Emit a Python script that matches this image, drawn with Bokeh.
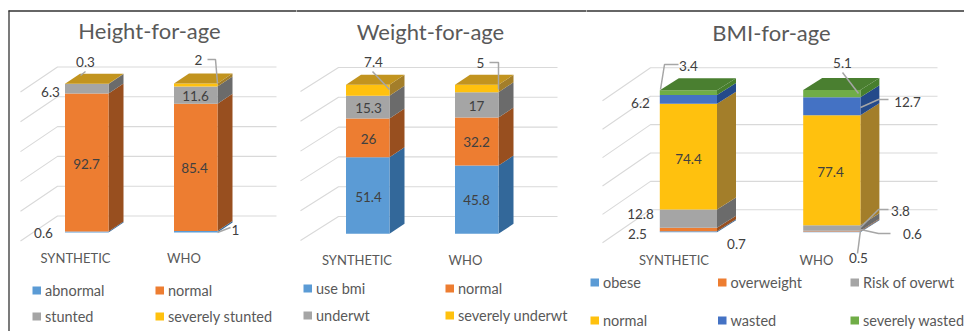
from bokeh.embed import file_html
from bokeh.layouts import row
from bokeh.models import Range1d
from bokeh.plotting import figure
from bokeh.resources import INLINE
from bokeh.core.properties import value

# Series values, bottom of the stack first
categories = ["SYNTHETIC", "WHO"]

height_series = ["abnormal", "normal", "stunted", "severely stunted"]
height_synthetic = [0.6, 92.7, 6.3, 0.3]
height_who = [1, 85.4, 11.6, 2]

weight_series = ["use bmi", "normal", "underwt", "severely underwt"]
weight_synthetic = [51.4, 26, 15.3, 7.4]
weight_who = [45.8, 32.2, 17, 5]

bmi_series = ["obese", "overweight", "Risk of overwt", "normal", "wasted", "severely wasted"]
bmi_synthetic = [0.7, 2.5, 12.8, 74.4, 6.2, 3.4]
bmi_who = [0.5, 0.6, 3.8, 77.4, 12.7, 5.1]

BLUE, ORANGE, GRAY, YELLOW, NAVY, GREEN = "#5B9BD5", "#ED7D31", "#A5A5A5", "#FFC10E", "#4472C4", "#70AD47"
SIDES = {BLUE: "#33689A", ORANGE: "#984F1F", GRAY: "#6B6B6B", YELLOW: "#A37E2A", NAVY: "#244A8A", GREEN: "#477F2D"}
TOPS = {YELLOW: "#C2941F", GREEN: "#4A7F30"}
FONT = "Lato"
INK = "#595959"
LABEL = "#404040"
HEIGHT = 331


def panel(cfg):
    x0, x1 = cfg["span"]
    base, scale = cfg["base"], cfg["scale"]
    to_value = lambda py: (base - py) / scale

    p = figure(width=x1 - x0, height=HEIGHT, output_backend="svg", toolbar_location=None,
               x_range=Range1d(x0, x1), y_range=Range1d(to_value(HEIGHT), to_value(0)),
               min_border=0, background_fill_color="white", border_fill_color="white")
    p.axis.visible = False
    p.grid.visible = False
    p.outline_line_color = None

    def label(px, py, text, size=13.5, color=LABEL, align="center"):
        p.text([px], [to_value(py)], text=[text], text_font=value(FONT), text_font_size=f"{size}px",
               text_color=color, text_align=align, text_baseline="middle")

    # Frame along the top (and the left edge on the first panel)
    p.line([8 if x0 == 0 else x0 - 3, x1 + 3], [to_value(10.5)] * 2, line_color="#333333", line_width=1.3)
    if x0 == 0:
        p.line([8.5, 8.5], [to_value(10), to_value(HEIGHT)], line_color="#333333", line_width=1.3)

    # Back wall gridlines with their receding side-wall strokes
    gx0, gx1, dx_wall = cfg["grid"]
    for tick in [0, 20, 40, 60, 80, 100]:
        gy = to_value(cfg["wall_base"]) + tick
        p.line([gx0 - dx_wall, gx0, gx1], [gy - cfg["wall_dy"] / scale, gy, gy], line_color="#D9D9D9", line_width=1.1)

    # Stacked 3-D columns
    dx, dy = cfg["depth"]
    dv = dy / scale
    for left, vals in zip(cfg["lefts"], cfg["stacks"]):
        right = left + cfg["width"]
        bottom = 0
        for val, color in zip(vals, cfg["colors"]):
            top = bottom + val
            p.patch([right, right + dx, right + dx, right], [bottom, bottom + dv, top + dv, top],
                    fill_color=SIDES[color], line_color=None)
            p.quad(left=[left], right=[right], bottom=[bottom], top=[top], fill_color=color, line_color=None)
            bottom = top
        p.patch([left, right, right + dx, left + dx], [bottom, bottom, bottom + dv, bottom + dv],
                fill_color=TOPS[cfg["colors"][-1]], line_color=None)

    # Leader lines to labels that sit outside their segment
    for xs, ys in cfg["leaders"]:
        p.line(xs, [to_value(y) for y in ys], line_color="#A6A6A6", line_width=1.5)

    for px, py, text in cfg["labels"]:
        label(px, py, text)

    for px, py, text in cfg["cats"]:
        label(px, py, text, size=13, color=INK)

    p.text([cfg["title"][0]], [to_value(cfg["title"][1])], text=[cfg["title"][2]], text_font=value(FONT),
           text_font_size="22px", text_color=INK, text_align="center", text_baseline="middle")

    # Legend swatches and entries
    for sx, ty, text, color in cfg["legend"]:
        p.quad(left=[sx], right=[sx + 8.5], bottom=[to_value(ty + 4)], top=[to_value(ty - 4)],
               fill_color=color, line_color=None)
        label(sx + 12.5, ty, text, size=14.5, color=INK, align="left")
    return p


fig_height = panel({
    "span": (0, 296), "base": 232, "scale": 1.49, "wall_base": 215.5, "wall_dy": 25,
    "grid": (57, 276, 37), "depth": (15, 10), "lefts": [64.5, 173.5], "width": 43.5,
    "stacks": [height_synthetic, height_who], "colors": [BLUE, ORANGE, GRAY, YELLOW],
    "title": (149, 29.5, "Height-for-age"),
    "cats": [(75, 257, categories[0]), (183.5, 257, categories[1])],
    "leaders": [([85, 80], [71, 75]), ([207, 215, 217], [59, 59, 83]), ([230, 217], [227, 232])],
    "labels": [(85, 61, "0.3"), (50, 91, "6.3"), (86, 163, "92.7"), (43, 232, "0.6"), (198, 59, "2"),
               (195, 95, "11.6"), (194, 167, "85.4"), (235, 229, "1")],
    "legend": [(32, 290, height_series[0], BLUE), (155, 290, height_series[1], ORANGE),
               (32, 316, height_series[2], GRAY), (155, 316, height_series[3], YELLOW)],
})

fig_weight = panel({
    "span": (296, 586), "base": 233.3, "scale": 1.49, "wall_base": 216, "wall_dy": 24,
    "grid": (338, 557, 38), "depth": (15, 10), "lefts": [345.5, 454.5], "width": 43.5,
    "stacks": [weight_synthetic, weight_who], "colors": [BLUE, ORANGE, GRAY, YELLOW],
    "title": (430, 30.5, "Weight-for-age"),
    "cats": [(356.5, 259, categories[0]), (465, 259, categories[1])],
    "leaders": [([372, 389], [71, 89]), ([489, 498, 498], [62, 62, 89])],
    "labels": [(373, 61, "7.4"), (368, 107, "15.3"), (368, 138, "26"), (368, 196, "51.4"), (480, 62, "5"),
               (476, 105, "17"), (476, 141, "32.2"), (476, 199, "45.8")],
    "legend": [(303, 288, weight_series[0], BLUE), (445, 288, weight_series[1], ORANGE),
               (303, 315, weight_series[2], GRAY), (445, 315, weight_series[3], YELLOW)],
})

fig_bmi = panel({
    "span": (586, 964), "base": 231.7, "scale": 1.42, "wall_base": 209.3, "wall_dy": 33,
    "grid": (650, 937, 48), "depth": (19, 12), "lefts": [659.3, 802.7], "width": 57.2,
    "stacks": [bmi_synthetic, bmi_who], "colors": [BLUE, ORANGE, GRAY, YELLOW, NAVY, GREEN],
    "title": (771, 31.5, "BMI-for-age"),
    "cats": [(673.5, 259, categories[0]), (816, 259, categories[1])],
    "leaders": [([678, 664, 660], [64, 64, 89]), ([842, 858], [72, 93]), ([888, 878, 860], [99, 99, 107]),
                ([888, 878, 860], [209, 209, 227]), ([890, 878, 860], [233, 233, 229]), ([857, 860], [253, 230])],
    "labels": [(688, 65, "3.4"), (640, 102, "6.2"), (688, 158, "74.4"), (640, 213, "12.8"), (637, 233, "2.5"),
               (736, 243, "0.7"), (842, 62, "5.1"), (907, 101, "12.7"), (830, 171, "77.4"), (900, 210, "3.8"),
               (912, 233, "0.6"), (858, 257, "0.5")],
    "legend": [(590, 282, bmi_series[0], BLUE), (717.5, 282, bmi_series[1], ORANGE), (850, 282, bmi_series[2], GRAY),
               (590, 320, bmi_series[3], YELLOW), (717.5, 320, bmi_series[4], NAVY), (850, 320, bmi_series[5], GREEN)],
})

page = row(fig_height, fig_weight, fig_bmi, spacing=0)
open("out.html", "w").write(file_html(page, INLINE))
